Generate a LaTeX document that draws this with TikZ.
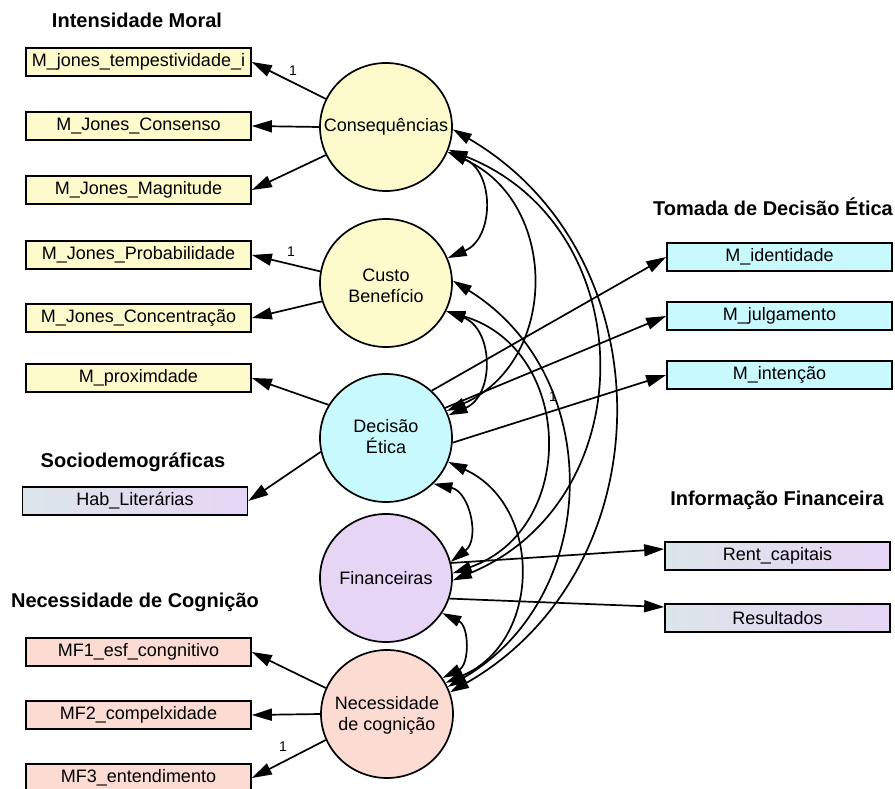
\documentclass[tikz,border=0pt]{standalone}
\usepackage{fontspec}
\setmainfont{Liberation Sans}
\usetikzlibrary{shapes.geometric,arrows.meta,calc}

\definecolor{ylw}{HTML}{FDFBCB}
\definecolor{cyn}{HTML}{C8F9FD}
\definecolor{lav}{HTML}{E6D5F5}
\definecolor{pnk}{HTML}{FCDBD3}
\definecolor{gry}{HTML}{DCE5EA}

\tikzset{
  ind/.style={draw, line width=1.7pt, minimum width=225pt, minimum height=28pt,
    inner sep=0pt, font=\fontsize{18}{21}\selectfont},
  lat/.style={ellipse, draw, line width=1.7pt, minimum width=132pt,
    minimum height=128pt, inner sep=0pt},
  lattext/.style={align=center, inner sep=0pt, font=\fontsize{18}{21}\selectfont},
  grad/.style={left color=gry, right color=lav},
  load/.style={line width=1.7pt, -{Triangle[length=20pt,width=12pt]}},
  cov/.style={line width=1.7pt, {Triangle[length=19pt,width=11pt]}-{Triangle[length=19pt,width=11pt]}, bend left=#1},
  grp/.style={font=\bfseries\fontsize{20}{24}\selectfont, inner sep=0pt},
  one/.style={font=\fontsize{14}{16}\selectfont, inner sep=0pt},
}

\begin{document}
\begin{tikzpicture}[x=1pt,y=1pt]
\useasboundingbox (0,0) rectangle (895,-789);

% group titles
\node[grp] (tIM) at (137,-20) {Intensidade Moral};
\node[grp] (tSD) at (133,-462) {Sociodemográficas};
\node[grp] (tNC) at (135,-602) {Necessidade de Cognição};
\node[grp] (tTD) at (773,-207) {Tomada de Decisão Ética};
\node[grp] (tIF) at (777,-500) {Informação Financeira};

% latent variables
\node[lat, fill=ylw] (c1) at (386,-127) {};
\node[lattext] at (386,-127) {Consequências};
\node[lat, fill=ylw] (c2) at (386,-283) {};
\node[lattext] at (386,-286) {Custo\\Benefício};
\node[lat, fill=cyn] (c3) at (386,-438) {};
\node[lattext] at (386,-437) {Decisão\\Ética};
\node[lat, fill=lav] (c4) at (386,-578) {};
\node[lattext] at (386,-578) {Financeiras};
\node[lat, fill=pnk] (c5) at (387,-714) {};
\node[lattext] at (387,-715) {Necessidade\\de cognição};

% observed indicators, left column
\node[ind, fill=ylw] (b1) at (138.5,-62) {M\_jones\_tempestividade\_i};
\node[ind, fill=ylw] (b2) at (138.5,-126) {M\_Jones\_Consenso};
\node[ind, fill=ylw] (b3) at (138.5,-190) {M\_Jones\_Magnitude};
\node[ind, fill=ylw] (b4) at (138.5,-255) {M\_Jones\_Probabilidade};
\node[ind, fill=ylw] (b5) at (138.5,-318) {M\_Jones\_Concentração};
\node[ind, fill=ylw] (b6) at (138.5,-378) {M\_proximdade};
\node[ind, grad] (hb) at (135,-501) {Hab\_Literárias};
\node[ind, fill=pnk] (m1) at (138.5,-652) {MF1\_esf\_congnitivo};
\node[ind, fill=pnk] (m2) at (138.5,-715) {MF2\_compelxidade};
\node[ind, fill=pnk] (m3) at (138.5,-778) {MF3\_entendimento};

% observed indicators, right column
\node[ind, fill=cyn] (r1) at (779.5,-257) {M\_identidade};
\node[ind, fill=cyn] (r2) at (779.5,-316) {M\_julgamento};
\node[ind, fill=cyn] (r3) at (779.5,-375) {M\_intenção};
\node[ind, grad] (rc) at (777.5,-556) {Rent\_capitais};
\node[ind, grad] (rs) at (777.5,-618) {Resultados};

% loadings
\draw[load] (c1.155) -- (b1.east);
\draw[load] (c1.180) -- (b2.east);
\draw[load] (c1.205) -- (b3.east);
\draw[load] (c2.170) -- (b4.east);
\draw[load] (c2.196) -- (b5.east);
\draw[load] (c3.150) -- (b6.east);
\draw[load] (c3.192) -- (hb.east);
\draw[load] (c3.46) -- (r1.west);
\draw[load] (c3.27) -- (r2.west);
\draw[load] (c3.-4) -- (r3.west);
\draw[load] (c4.13) -- ($(rc.west)+(0,7)$);
\draw[load] (c4.-18) -- ($(rs.west)+(0,11)$);
\draw[load] (c5.157) -- (m1.east);
\draw[load] (c5.180) -- (m2.east);
\draw[load] (c5.203) -- (m3.east);

% fixed loadings
\node[one] (f1) at (293,-71) {1};
\node[one] (f2) at (291,-252) {1};
\node[one] (f3) at (553,-397) {1};
\node[one] (f4) at (283,-747) {1};

% covariances between latent variables (circular arcs)
\draw[cov=67, looseness=1.23] (c1.-22) to (c2.22);
\draw[cov=66, looseness=1.21] (c1.-22) to (c3.24);
\draw[cov=68, looseness=1.24] (c1.-20) to (c4.-2);
\draw[cov=60, looseness=1.13] (c1.-2) to (c5.19);
\draw[cov=68, looseness=1.24] (c2.-25) to (c3.20);
\draw[cov=72, looseness=1.30] (c2.-25) to (c4.4);
\draw[cov=59, looseness=1.13] (c2.2) to (c5.24);
\draw[cov=65, looseness=1.19] (c3.-44) to (c4.14);
\draw[cov=66, looseness=1.21] (c3.-21) to (c5.28);
\draw[cov=64, looseness=1.19] (c4.-32) to (c5.33);
\end{tikzpicture}
\end{document}
